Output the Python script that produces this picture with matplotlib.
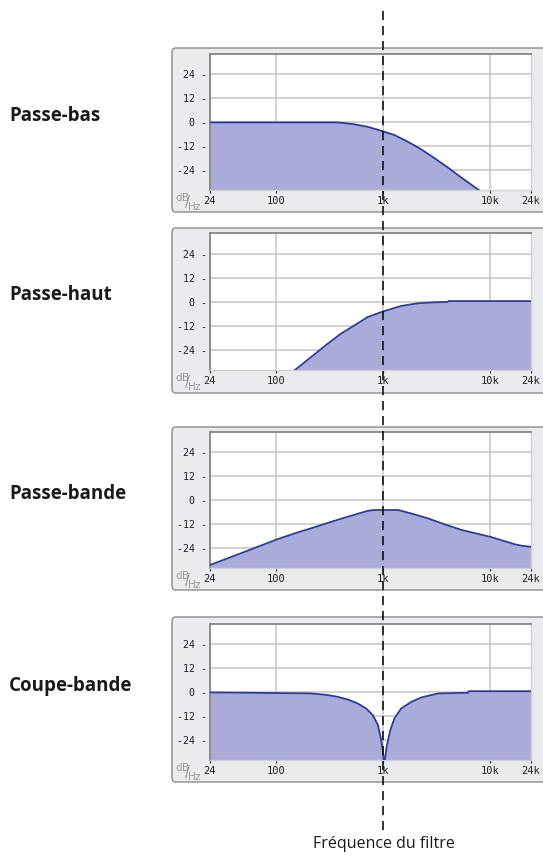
import matplotlib
matplotlib.use("Agg")
import matplotlib.pyplot as plt
from matplotlib.patches import FancyBboxPatch
from matplotlib.lines import Line2D
from matplotlib import transforms

# courbes (frequence en Hz, niveau en dB)
lp_f = [24, 100, 373, 517, 715, 1000, 1270, 1700, 2270, 3030, 4050, 5400, 7900]
lp_db = [0, 0, 0, -0.8, -2.2, -4.5, -6.3, -9.7, -13.5, -18, -22.7, -27.7, -34]

hp_f = [146, 210, 301, 401, 535, 715, 1000, 1470, 2100, 3000, 4000, 4050, 24000]
hp_db = [-34.2, -27.5, -20.8, -15.8, -11.7, -7.5, -4.7, -2.0, -0.7, -0.2, 0, 0.4, 0.4]

bp_f = [24, 49, 100, 150, 210, 300, 431, 716, 825, 1380, 1470, 1960, 2620, 3760, 5400, 10000, 17100, 19800, 24000]
bp_db = [-32.3, -26, -19.6, -16.4, -14, -11.3, -8.7, -5.2, -4.8, -4.8, -5.2, -7, -9, -12, -14.8, -18.2, -22, -22.7, -23.2]

br_f = [24, 210, 301, 373, 464, 575, 690, 797, 890, 942, 990, 1010, 1030, 1075, 1160, 1270, 1470,
        1830, 2270, 3260, 6200, 6250, 24000]
br_db = [0, -0.5, -1.3, -2.2, -3.5, -5.5, -8, -11.3, -16.3, -22.2, -28.8, -34.5, -34.5, -27, -19, -13, -8,
         -4.7, -2.5, -0.5, -0.2, 0.6, 0.6]

names = ["Passe-bas", "Passe-haut", "Passe-bande", "Coupe-bande"]
curves = [(lp_f, lp_db), (hp_f, hp_db), (bp_f, bp_db), (br_f, br_db)]

x_ticks = [24, 100, 1000, 10000, 24000]
x_labels = ["24", "100", "1k", "10k", "24k"]
y_ticks = [24, 12, 0, -12, -24]
y_labels = ["24 -", "12 -", "0 -", "-12 -", "-24 -"]

W, H = 543, 856
# (haut cadre, haut trace, bas trace, bas cadre) en pixels
boxes = [(48, 54, 190, 212), (228, 233, 370, 393), (427, 432, 568, 590), (617, 624, 760, 782)]

fig = plt.figure(figsize=(W / 100, H / 100), dpi=100)

fill_c = "#a9acd8"
line_c = "#2b3c9c"
grid_c = "#c9c9c9"

axes = []
for i, (name, (f, db)) in enumerate(zip(names, curves)):
    ft, pt, pb, fb = boxes[i]
    # cadre gris
    frame = FancyBboxPatch((172 / W, 1 - fb / H), (W + 20 - 172) / W, (fb - ft) / H,
                           boxstyle="round,pad=0,rounding_size=0.006",
                           transform=fig.transFigure, facecolor="#e9ebee",
                           edgecolor="#8c8c8c", linewidth=1.0, zorder=-1)
    fig.patches.append(frame)

    ax = fig.add_axes([210 / W, 1 - pb / H, 321 / W, (pb - pt) / H])
    ax.set_xscale("log")
    ax.set_xlim(24, 24000)
    ax.set_ylim(-33.8, 34.2)
    ax.set_facecolor("white")
    ax.fill_between(f, db, -40, color=fill_c, linewidth=0, zorder=2)
    ax.plot(f, db, color=line_c, linewidth=1.3, zorder=3)

    for v in [100, 1000, 10000]:
        ax.axvline(v, color=grid_c, linewidth=1.2, zorder=1)
    for v in y_ticks:
        ax.axhline(v, color=grid_c, linewidth=1.2, zorder=1)

    ax.set_xticks(x_ticks)
    ax.set_xticklabels(x_labels, family="DejaVu Sans Mono", fontsize=7.5)
    ax.xaxis.set_minor_locator(plt.NullLocator())
    ax.tick_params(axis="x", length=2, width=0.8, pad=2, colors="#222222")
    ax.set_yticks(y_ticks)
    ax.set_yticklabels(y_labels, family="DejaVu Sans Mono", fontsize=7.2)
    ax.tick_params(axis="y", length=0, pad=2, colors="#222222")

    for s in ["top", "left"]:
        ax.spines[s].set_color("#858585")
        ax.spines[s].set_linewidth(1.3)
    for s in ["right", "bottom"]:
        ax.spines[s].set_color("#d0d0d0")
        ax.spines[s].set_linewidth(1.0)

    # petite etiquette dB/Hz
    fig.text(175 / W, 1 - (pb + 12) / H, r"$^{\mathrm{dB}}\!\!/\!_{\mathrm{Hz}}$",
             fontsize=10.5, color="#9a9a9a", va="center", ha="left")

    fig.text(9 / W, 1 - ((pt + pb) / 2 - 6) / H, name, family="Open Sans",
             fontweight="bold", fontsize=13.5, va="center", ha="left", color="#1a1a1a")
    axes.append(ax)

# ligne pointillee a la frequence du filtre
tr = transforms.blended_transform_factory(axes[0].transData, fig.transFigure)
fig.add_artist(Line2D([1000, 1000], [1 - 11 / H, 1 - 832 / H], transform=tr,
                      color="#111111", linewidth=1.2, dashes=(5.5, 3.5), zorder=10))

fig.text(384 / W, 1 - 844 / H, "Fréquence du filtre", family="Open Sans",
         fontsize=11.5, ha="center", va="center", color="#1a1a1a")

fig.savefig("out.png", dpi=100)
